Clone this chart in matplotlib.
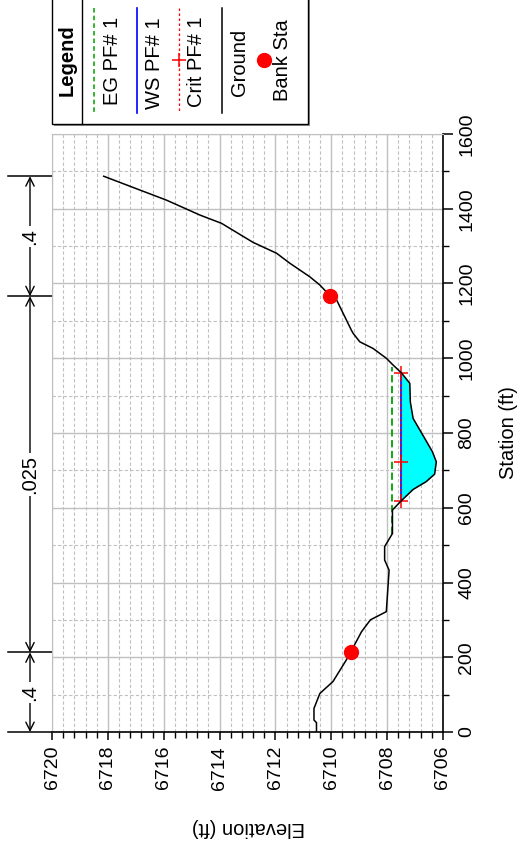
import numpy as np
import matplotlib.pyplot as plt
from matplotlib.lines import Line2D
from matplotlib.patches import Rectangle

plt.rcParams['font.family'] = ['Liberation Sans', 'DejaVu Sans']

# ground profile (station ft, elevation ft)
station = [0, 25, 32, 63, 103, 135, 193, 213, 268, 300, 322, 433, 460, 496,
           531, 594, 619, 649, 670, 690, 723, 750, 785, 839, 883, 933, 961,
           982, 1000, 1026, 1044, 1067, 1075, 1156, 1166, 1196, 1218, 1254,
           1281, 1310, 1361, 1383, 1423, 1450, 1487]
ground = [6710.53, 6710.53, 6710.62, 6710.62, 6710.41, 6709.94, 6709.46,
          6709.31, 6708.92, 6708.60, 6708.03, 6707.93, 6708.09, 6708.09,
          6707.81, 6707.81, 6707.49, 6707.07, 6706.60, 6706.30, 6706.24,
          6706.38, 6706.65, 6707.07, 6707.17, 6707.19, 6707.49, 6707.79,
          6708.03, 6708.50, 6708.98, 6709.22, 6709.28, 6709.81, 6710.03,
          6710.41, 6710.77, 6711.48, 6711.96, 6712.80, 6713.93, 6714.70,
          6715.90, 6716.85, 6718.15]

bank_sta = [213, 1166]

ws_elev = 6707.49
ws_sta = [619, 961]
eg_elev = 6707.81
eg_sta = [531, 977]
crit_sta = [619, 723, 961]

n_breaks = [0, 213, 1166, 1487]
n_values = ['.4', '.025', '.4']

W, H = 522, 847
fig = plt.figure(figsize=(W / 100, H / 100), dpi=100)
ax = fig.add_axes([52 / W, 1 - 732 / H, (443 - 52) / W, (732 - 134) / H])


def px(x, y):
    return x / W, 1 - y / H


# water between ws and ground
fs = np.linspace(ws_sta[0], ws_sta[1], 300)
fg = np.interp(fs, station, ground)
ax.fill_betweenx(fs, fg, ws_elev, where=fg <= ws_elev, color='#00ffff', lw=0, zorder=2)

ax.plot([eg_elev, eg_elev], eg_sta, color='#00a000', ls=(0, (4, 2)), lw=1.3, zorder=3)
ax.plot([ws_elev, ws_elev], ws_sta, color='blue', lw=1.2, zorder=3)
ax.plot([ws_elev] * len(crit_sta), crit_sta, color='red', ls=(0, (2, 2)), lw=0.9,
        marker='+', ms=10, mew=1.1, zorder=4)
ax.plot(ground, station, color='black', lw=1.1, zorder=5)
ax.plot(np.interp(bank_sta, station, ground), bank_sta, 'o', color='red', ms=10, zorder=6)

ax.set_xlim(6720, 6706)
ax.set_ylim(0, 1600)
ax.set_xticks(np.arange(6706, 6721, 2))
ax.set_xticks(np.arange(6706, 6720.01, 0.4), minor=True)
ax.set_yticks(np.arange(0, 1601, 200))
ax.set_yticks(np.arange(0, 1601, 100), minor=True)
ax.yaxis.tick_right()
ax.grid(which='major', color='#c0c0c0', lw=1.0)
ax.grid(which='minor', color='#c0c0c0', lw=0.8, ls=(0, (3, 2)))
ax.set_axisbelow(True)

for s in ['left', 'top']:
    ax.spines[s].set_color('#c0c0c0')
for s in ['right', 'bottom']:
    ax.spines[s].set_linewidth(1.2)

ax.tick_params(axis='x', which='major', length=6, width=1.1, labelsize=14, labelrotation=90, pad=4)
ax.tick_params(axis='x', which='minor', length=4, width=1.0)
ax.tick_params(axis='y', which='major', length=7, width=1.1, labelsize=14, labelrotation=90, pad=4)
ax.tick_params(axis='y', which='minor', length=4, width=1.0)
for lab in ax.get_yticklabels():
    lab.set_va('center')

fig.text(*px(248, 827), 'Elevation (ft)', rotation=180, fontsize=14.5, ha='center', va='center')
fig.text(*px(508, 433), 'Station (ft)', rotation=90, fontsize=14.5, ha='center', va='center')

# Manning's n regions along the left edge
tr = ax.get_yaxis_transform()
x0 = (8 - 52) / (443 - 52)
xa = (30 - 52) / (443 - 52)
for s in n_breaks:
    ax.plot([x0, 0], [s, s], color='black', lw=1.1, transform=tr, clip_on=False)
for i, nv in enumerate(n_values):
    a, b = n_breaks[i], n_breaks[i + 1]
    ax.annotate('', xy=(xa, a), xytext=(xa, b), xycoords=tr, textcoords=tr,
                arrowprops=dict(arrowstyle='<->,head_length=0.6,head_width=0.3',
                                color='black', lw=1.0, shrinkA=0, shrinkB=0))
    ax.text(xa, (a + b) / 2, nv, transform=tr, rotation=90, fontsize=14.5,
            ha='center', va='center', clip_on=False,
            bbox=dict(facecolor='white', edgecolor='none', pad=1.5))

# legend box
bx0, bx1, by0, by1 = 52, 308, -4, 124
fig.add_artist(Rectangle(px(bx0 + 2, by1 + 2), (bx1 - bx0) / W, (by1 - by0) / H,
                         transform=fig.transFigure, facecolor='#909090', edgecolor='none'))
fig.add_artist(Rectangle(px(bx0, by1), (bx1 - bx0) / W, (by1 - by0) / H,
                         transform=fig.transFigure, facecolor='white', edgecolor='black', lw=1.0))
fig.add_artist(Line2D([82 / W, 82 / W], [1 - by0 / H, 1 - by1 / H], color='black', lw=1.0,
                      transform=fig.transFigure))
fig.text(*px(67, 60), 'Legend', rotation=90, fontsize=14.5, fontweight='bold', ha='center', va='center')

ly0, ly1 = 1 - 8 / H, 1 - 113 / H
fig.add_artist(Line2D([94 / W] * 2, [ly0, ly1], color='#00a000', ls=(0, (3, 2)), lw=1.1,
                      transform=fig.transFigure))
fig.text(*px(112, 61), 'EG PF# 1', rotation=90, fontsize=14.5, ha='center', va='center')
fig.add_artist(Line2D([137 / W] * 2, [ly0, ly1], color='blue', lw=1.2, transform=fig.transFigure))
fig.text(*px(155, 63), 'WS PF# 1', rotation=90, fontsize=14.5, ha='center', va='center')
fig.add_artist(Line2D([179 / W] * 2, [ly0, ly1], color='red', ls=(0, (2, 2)), lw=0.9,
                      transform=fig.transFigure))
fig.add_artist(Line2D([179 / W], [1 - 60 / H], color='red', marker='+', ms=10, mew=1.1,
                      transform=fig.transFigure))
fig.text(*px(197, 62), 'Crit PF# 1', rotation=90, fontsize=14.5, ha='center', va='center')
fig.add_artist(Line2D([222 / W] * 2, [ly0, ly1], color='black', lw=1.1, transform=fig.transFigure))
fig.text(*px(240, 62), 'Ground', rotation=90, fontsize=14.5, ha='center', va='center')
fig.add_artist(Line2D([264 / W], [1 - 60 / H], color='red', marker='o', ms=10, ls='none',
                      transform=fig.transFigure))
fig.text(*px(282, 60), 'Bank Sta', rotation=90, fontsize=14.5, ha='center', va='center')

fig.savefig('out.png', dpi=100)
